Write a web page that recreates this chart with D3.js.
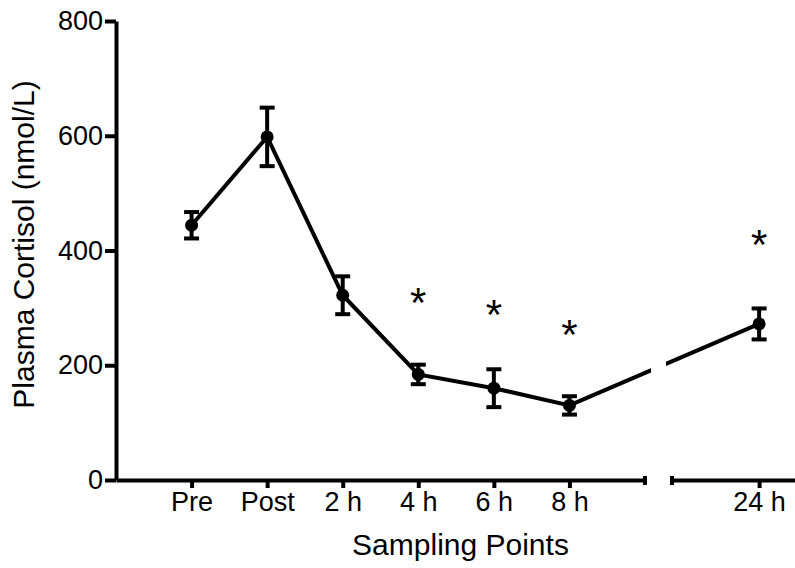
<!DOCTYPE html>
<html><head><meta charset="utf-8">
<script src="https://cdn.jsdelivr.net/npm/d3@7"></script>
<style>
body{margin:0;background:#fff}
svg{display:block}
text{font-family:"Liberation Sans",Arial,sans-serif;fill:#000}
</style>
</head><body><svg id="c" width="795" height="568"></svg>
<script>
// ---- data ----
const categories = ["Pre", "Post", "2 h", "4 h", "6 h", "8 h", "24 h"];
const timeHours = [-2, 0, 2, 4, 6, 8, 24];
const meanValues = [444, 598, 322, 184, 160, 130, 272];
const semValues = [23, 51, 33, 17, 33, 16, 27];
const starValues = [null, null, null, 320, 299, 263, 420]; // asterisk level (nmol/L)
const yTicks = [0, 200, 400, 600, 800];
const yTitle = "Plasma Cortisol (nmol/L)";
const xTitle = "Sampling Points";

const W = 795, H = 568;
const svg = d3.select("#c");
const FONT = '"Liberation Sans", Arial, sans-serif';
const SW = 4;

const y = d3.scaleLinear().domain([0, 800]).range([480, 21]);
const xA = d3.scaleLinear().domain([-4, 10]).range([116, 645]);
const xB = d3.scaleLinear().domain([21.7, 25]).range([672, 797]);
const x = t => (t <= 10 ? xA(t) : xB(t));
const labelOf = t => categories[timeHours.indexOf(t)];

const pts = timeHours.map((t, i) => ({t, m: meanValues[i], s: semValues[i], star: starValues[i]}));

// ---- y axis ----
const gy = svg.append("g").attr("transform", `translate(${xA.range()[0]},0)`)
  .call(d3.axisLeft(y).tickValues(yTicks).tickSize(11).tickSizeOuter(0).tickPadding(2));
gy.attr("font-family", FONT).attr("font-size", 27);
gy.selectAll("path,line").attr("stroke", "#000").attr("stroke-width", SW);

// ---- x axis, two segments ----
const baseY = y(0);
const gxA = svg.append("g").attr("transform", `translate(0,${baseY})`)
  .call(d3.axisBottom(xA).tickValues(timeHours.filter(t => t <= 10)).tickFormat(labelOf)
    .tickSize(8).tickSizeOuter(0).tickPadding(4));
const gxB = svg.append("g").attr("transform", `translate(0,${baseY})`)
  .call(d3.axisBottom(xB).tickValues(timeHours.filter(t => t > 10)).tickFormat(labelOf)
    .tickSize(8).tickSizeOuter(0).tickPadding(4));
[gxA, gxB].forEach(g => {
  g.attr("font-family", FONT).attr("font-size", 27);
  g.selectAll("path,line").attr("stroke", "#000").attr("stroke-width", SW);
});
// break caps
[xA(xA.domain()[1]), xB(xB.domain()[0])].forEach(cx => {
  svg.append("line").attr("x1", cx).attr("x2", cx).attr("y1", baseY - 4).attr("y2", baseY + 5)
    .attr("stroke", "#000").attr("stroke-width", SW);
});

// ---- data line with break gap ----
const gapC = (xA(xA.domain()[1]) + xB(xB.domain()[0])) / 2;
const defs = svg.append("defs");
const cp = defs.append("clipPath").attr("id", "gapclip");
cp.append("rect").attr("x", 0).attr("y", 0).attr("width", gapC - 7.5).attr("height", H);
cp.append("rect").attr("x", gapC + 7.5).attr("y", 0).attr("width", W).attr("height", H);

svg.append("path").datum(pts)
  .attr("clip-path", "url(#gapclip)")
  .attr("fill", "none").attr("stroke", "#000").attr("stroke-width", SW)
  .attr("d", d3.line().x(d => x(d.t)).y(d => y(d.m)));

// ---- error bars ----
const eb = svg.append("g").attr("stroke", "#000").attr("stroke-width", SW);
pts.forEach(d => {
  const cx = x(d.t);
  eb.append("line").attr("x1", cx).attr("x2", cx).attr("y1", y(d.m + d.s)).attr("y2", y(d.m - d.s));
  [d.m + d.s, d.m - d.s].forEach(v => {
    eb.append("line").attr("x1", cx - 7.5).attr("x2", cx + 7.5).attr("y1", y(v)).attr("y2", y(v));
  });
});

// ---- points ----
svg.append("g").selectAll("circle").data(pts).join("circle")
  .attr("cx", d => x(d.t)).attr("cy", d => y(d.m)).attr("r", 6.5).attr("fill", "#000");

// ---- asterisks ----
const starFs = 42;
svg.append("g").selectAll("text").data(pts.filter(d => d.star != null)).join("text")
  .attr("x", d => x(d.t)).attr("y", d => y(d.star) + starFs * 0.48)
  .attr("text-anchor", "middle").attr("font-size", starFs).text("*");

// ---- titles ----
svg.append("text").attr("x", (xA.range()[0] + W) / 2 + 5).attr("y", 555)
  .attr("text-anchor", "middle").attr("font-size", 30).text(xTitle);
svg.append("text").attr("transform", `translate(34,${y(400) - 6}) rotate(-90)`)
  .attr("text-anchor", "middle").attr("font-size", 30).text(yTitle);
</script>
</body></html>
